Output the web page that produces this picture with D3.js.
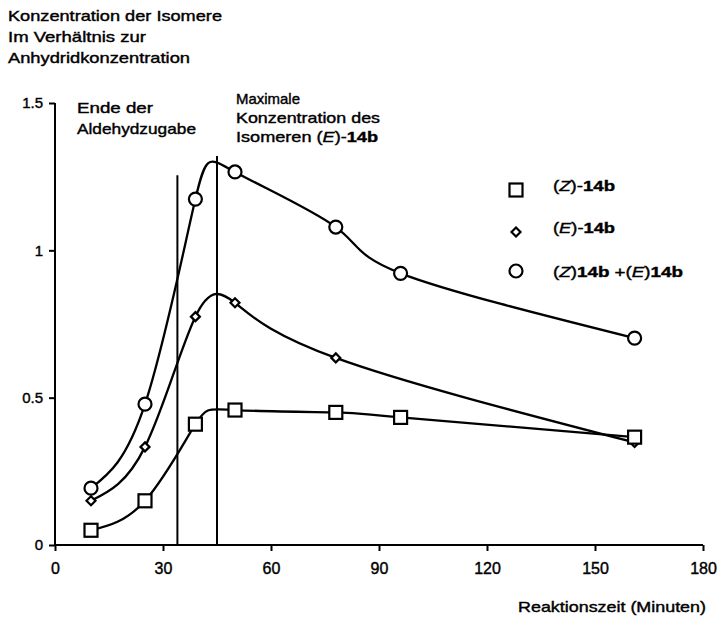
<!DOCTYPE html>
<html><head><meta charset="utf-8">
<script src="https://cdn.jsdelivr.net/npm/d3@7/dist/d3.min.js"></script>
<style>
body{margin:0;background:#fff;}
svg text{font-family:"Liberation Sans",Arial,Helvetica,sans-serif;fill:#000;stroke:#000;stroke-width:0.4px;}
</style></head><body>
<svg id="c" width="717" height="618"></svg>
<script>
// ---- data ----
const xTicks = [0, 30, 60, 90, 120, 150, 180];
const yTicks = [0, 0.5, 1, 1.5];
const yTickLabels = ["0", "0.5", "1", "1.5"];
const timesZ = [10, 25, 39, 50, 78, 96, 161];
const valuesZ = [0.05, 0.15, 0.41, 0.458, 0.45, 0.433, 0.366];
const timesE = [10, 25, 39, 50, 78, 161];
const valuesE = [0.15, 0.333, 0.775, 0.822, 0.635, 0.348];
const timesSum = [10, 25, 39, 50, 78, 96, 161];
const valuesSum = [0.193, 0.478, 1.174, 1.266, 1.079, 0.922, 0.702];
const markerTimes = [34, 45];
const markerTops = [1.255, 1.32];

const svg = d3.select("#c");
const x = d3.scaleLinear().domain([0, 180]).range([55, 703]);
const y = d3.scaleLinear().domain([0, 1.5]).range([545, 103]);

// axes
const xAxis = svg.append("g").attr("transform", "translate(0,545)")
  .call(d3.axisBottom(x).tickValues(xTicks).tickSize(6).tickPadding(12).tickFormat(d3.format("d")));
const yAxis = svg.append("g").attr("transform", "translate(55,0)")
  .call(d3.axisLeft(y).tickValues(yTicks).tickSize(6).tickPadding(6).tickFormat((d,i)=>yTickLabels[i]));
[xAxis, yAxis].forEach(a => {
  a.select(".domain").attr("stroke", "#000").attr("stroke-width", 2);
  a.selectAll(".tick line").attr("stroke", "#000").attr("stroke-width", 2);
  a.selectAll(".tick text").attr("fill", "#000")
   .style("font-family", "Liberation Sans, Arial, sans-serif");
});
xAxis.selectAll(".tick text").attr("font-size", 16);
yAxis.selectAll(".tick text").attr("font-size", 15);
xAxis.select(".domain").attr("d", `M${x(0)},0H${x(180)}`);
yAxis.select(".domain").attr("d", `M0,${y(1.5)}V${y(0)}`);

// vertical marker lines
svg.append("g").selectAll("line").data(markerTimes).join("line")
  .attr("x1", d => x(d)).attr("x2", d => x(d))
  .attr("y1", (d,i) => y(markerTops[i])).attr("y2", y(0))
  .attr("stroke", "#000").attr("stroke-width", 2);

// curves
const curve = d3.curveNatural;
const series = [
  {t: timesSum, v: valuesSum, shape: "circle"},
  {t: timesE, v: valuesE, shape: "diamond"},
  {t: timesZ, v: valuesZ, shape: "square"}
];
const line = d3.line().x(d => x(d[0])).y(d => y(d[1])).curve(curve);
series.forEach(s => {
  const pts = s.t.map((t,i) => [t, s.v[i]]);
  svg.append("path").datum(pts).attr("d", line)
    .attr("fill", "none").attr("stroke", "#000").attr("stroke-width", 2.3);
});

function drawMarker(g, shape, cx, cy) {
  if (shape === "circle") {
    g.append("circle").attr("cx", cx).attr("cy", cy).attr("r", 6.5)
      .attr("fill", "#fff").attr("stroke", "#000").attr("stroke-width", 2.2);
  } else if (shape === "square") {
    g.append("rect").attr("x", cx - 6.5).attr("y", cy - 6.5).attr("width", 13).attr("height", 13)
      .attr("fill", "#fff").attr("stroke", "#000").attr("stroke-width", 2.2);
  } else {
    g.append("path").attr("d", `M${cx},${cy-4.5}L${cx+4.5},${cy}L${cx},${cy+4.5}L${cx-4.5},${cy}Z`)
      .attr("fill", "#fff").attr("stroke", "#000").attr("stroke-width", 2.2);
  }
}
const mg = svg.append("g");
series.forEach(s => s.t.forEach((t,i) => drawMarker(mg, s.shape, x(t), y(s.v[i]))));

// texts
function rich(xp, yp, parts, size, len) {
  const t = svg.append("text").attr("x", xp).attr("y", yp).attr("font-size", size);
  parts.forEach(p => {
    const ts = t.append("tspan").text(p[0]);
    if (p[1] === "i") ts.attr("font-style", "italic");
    if (p[1] === "b") ts.attr("font-weight", "bold");
  });
  if (len) t.attr("textLength", len).attr("lengthAdjust", "spacingAndGlyphs");
  return t;
}
const fs = 15;
rich(8, 21, [["Konzentration der Isomere"]], fs, 214);
rich(8, 42, [["Im Verhältnis zur"]], fs, 138);
rich(8, 63, [["Anhydridkonzentration"]], fs, 182);

rich(77, 113, [["Ende der"]], fs, 76);
rich(77, 134, [["Aldehydzugabe"]], fs, 119);
rich(236, 104, [["Maximale"]], fs, 64);
rich(236, 123, [["Konzentration des"]], fs, 144);
rich(236, 142, [["Isomeren ("], ["E","i"], [")-"], ["14b","b"]], fs, 142);

// legend
const legendItems = [
  {shape: "square", y: 190, parts: [["("], ["Z","i"], [")-"], ["14b","b"]], len: 62},
  {shape: "diamond", y: 232, parts: [["("], ["E","i"], [")-"], ["14b","b"]], len: 62},
  {shape: "circle", y: 271, parts: [["("], ["Z","i"], [")"], ["14b","b"], [" +("], ["E","i"], [")"], ["14b","b"]], len: 130}
];
legendItems.forEach(d => {
  drawMarker(svg, d.shape, 516, d.y);
  rich(553, d.y + (d.shape === "circle" ? 6 : 1), d.parts, fs, d.len);
});

rich(518, 612, [["Reaktionszeit (Minuten)"]], fs, 188);
</script></body></html>
